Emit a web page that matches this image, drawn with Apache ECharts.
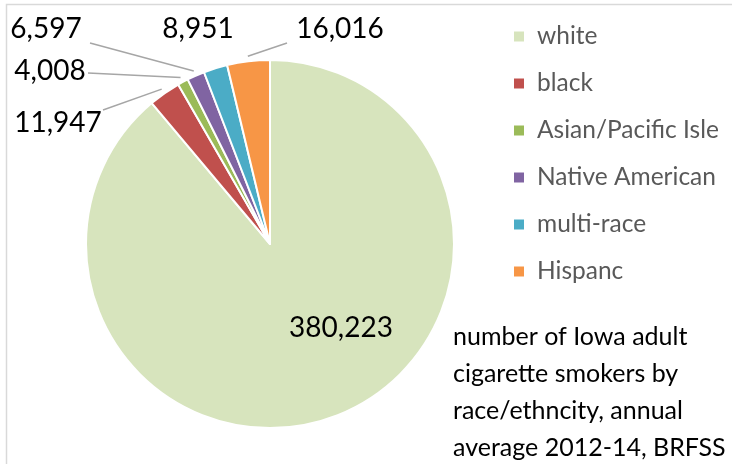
<!DOCTYPE html>
<html>
<head>
<meta charset="utf-8">
<script src="https://cdn.jsdelivr.net/npm/echarts@6/dist/echarts.min.js"></script>
<style>
  html, body { margin: 0; padding: 0; background: #fff; }
  #chart { width: 732px; height: 464px; }
</style>
</head>
<body>
<div id="chart"></div>
<script>
// Iowa adult cigarette smokers by race/ethnicity (annual average 2012-14, BRFSS)
const categories = ['white', 'black', 'Asian/Pacific Isle', 'Native American', 'multi-race', 'Hispanc'];
const smokers = [380223, 11947, 4008, 6597, 8951, 16016];
const sliceColors = ['#D7E4BD', '#C0504D', '#9BBB59', '#8064A2', '#4BACC6', '#F79646'];

// centre of each value label, and where its leader line meets the text (null = no leader)
const labelSpots = [[341, 328], [58, 123], [50, 71], [46, 29], [198, 29], [340, 29]];
const guideEnds = [null, [103, 110], [88, 73], [90, 43], null, [287, 43]];

const FONT = 'Lato, "Open Sans", sans-serif';
const PIE_CX = 270, PIE_CY = 244, PIE_R = 184;

const total = smokers.reduce((a, b) => a + b, 0);
// point just outside the rim at the middle of slice i (clockwise from 12 o'clock)
function rimPoint(i, gap) {
  const before = smokers.slice(0, i).reduce((a, b) => a + b, 0);
  const ang = (before + smokers[i] / 2) / total * Math.PI * 2;
  const r = PIE_R + gap;
  return [PIE_CX + r * Math.sin(ang), PIE_CY - r * Math.cos(ang)];
}

const chart = echarts.init(document.getElementById('chart'), null, { renderer: 'canvas' });

const pieData = categories.map((name, i) => ({
  name: name,
  value: smokers[i],
  itemStyle: { color: sliceColors[i] },
  label: { position: i === 0 ? 'inside' : 'outside' },
  labelLine: { show: guideEnds[i] !== null }
}));

chart.setOption({
  animation: false,
  backgroundColor: '#fff',
  legend: {
    orient: 'vertical',
    left: 507,
    top: 19,
    itemWidth: 12,
    itemHeight: 12,
    itemGap: 22,
    icon: 'rect',
    selectedMode: false,
    data: categories,
    textStyle: { fontFamily: FONT, fontSize: 24.5, lineHeight: 25, color: '#595959', padding: [0, 0, 0, 7] }
  },
  graphic: [
    {
      type: 'rect',
      shape: { x: 6.5, y: 4.5, width: 760, height: 480 },
      style: { fill: 'none', stroke: '#D9D9D9', lineWidth: 1.5 },
      silent: true
    },
    {
      type: 'text',
      left: 453,
      top: 318,
      style: {
        text: 'number of Iowa adult\ncigarette smokers by\nrace/ethncity, annual\naverage 2012-14, BRFSS',
        font: '25px ' + FONT,
        fill: '#000',
        lineHeight: 37
      }
    }
  ],
  series: [{
    type: 'pie',
    center: [PIE_CX, PIE_CY],
    radius: [0, PIE_R],
    startAngle: 90,
    clockwise: true,
    avoidLabelOverlap: false,
    itemStyle: { borderColor: '#fff', borderWidth: 2 },
    label: {
      show: true,
      fontFamily: FONT,
      fontSize: 28,
      color: '#000',
      formatter: p => p.value.toLocaleString('en-US')
    },
    labelLine: {
      show: true,
      length: 10,
      length2: 10,
      lineStyle: { color: '#A6A6A6', width: 1.5 }
    },
    labelLayout: function (params) {
      const i = params.dataIndex;
      const spot = labelSpots[i];
      const out = { x: spot[0], y: spot[1], align: 'center', verticalAlign: 'middle' };
      if (guideEnds[i]) {
        out.labelLinePoints = [rimPoint(i, 5), guideEnds[i]];
      }
      return out;
    },
    emphasis: { disabled: true },
    data: pieData
  }]
});
</script>
</body>
</html>
